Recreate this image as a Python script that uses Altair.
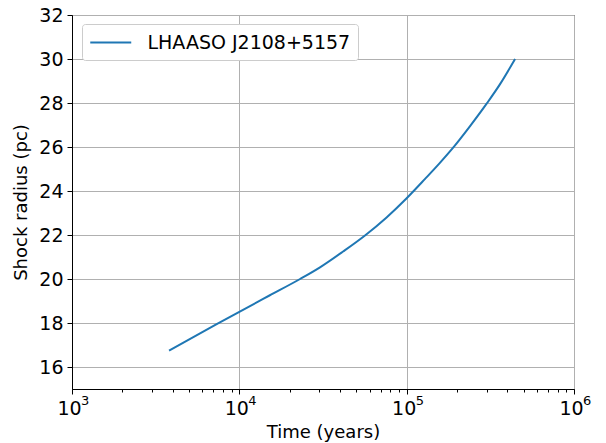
import altair as alt
import pandas as pd

# Data
time_years = [3802, 7413, 10000, 15136, 23067, 30339, 41687, 56364, 75858,
              100000, 128825, 158489, 190108, 239883, 301300, 363078, 444631]
shock_radius = [16.74, 17.97, 18.51, 19.25, 20.00, 20.53, 21.25, 21.98, 22.80,
                23.67, 24.55, 25.29, 25.98, 26.96, 27.98, 28.88, 30.00]
series_name = "LHAASO J2108+5157"

x_major = [1000, 10000, 100000, 1000000]
x_exp = ["3", "4", "5", "6"]
x_minor = [m * d for d in [1000, 10000, 100000] for m in range(2, 10)]
y_ticks = [16, 18, 20, 22, 24, 26, 28, 30, 32]

df = pd.DataFrame({"t": time_years, "r": shock_radius, "series": series_name})
df_exp = pd.DataFrame({"t": x_major, "e": x_exp})

FONT = "DejaVu Sans"
PLOT_H = 374

xscale = alt.Scale(type="log", domain=[1000, 1000000], nice=False)
yscale = alt.Scale(domain=[15, 32], nice=False, zero=False)

main = alt.Chart(df).mark_line(strokeWidth=2, interpolate="monotone").encode(
    x=alt.X("t:Q", scale=xscale,
            axis=alt.Axis(title="Time (years)", values=x_major, labelExpr="'10'",
                          orient="bottom", grid=True, gridColor="#b0b0b0",
                          gridWidth=1, tickSize=5, labelPadding=5, labelOffset=-3,
                          labelFontSize=19, titleFontSize=18, titlePadding=5,
                          labelFont=FONT, titleFont=FONT, labelColor="black",
                          titleColor="black", tickColor="black", domainColor="black",
                          labelFlush=False, titleFontWeight="normal")),
    y=alt.Y("r:Q", scale=yscale,
            axis=alt.Axis(title="Shock radius (pc)", values=y_ticks, grid=True,
                          gridColor="#b0b0b0", gridWidth=1, tickSize=5,
                          labelPadding=4, labelFontSize=19, titleFontSize=18,
                          titlePadding=8, labelFont=FONT, titleFont=FONT,
                          labelColor="black", titleColor="black", tickColor="black",
                          domainColor="black", titleFontWeight="normal")),
    color=alt.Color("series:N",
                    scale=alt.Scale(domain=[series_name], range=["#1f77b4"]),
                    legend=alt.Legend(title=None, orient="none", legendX=10, legendY=9,
                                      symbolType="M-1,0H3", symbolSize=420,
                                      symbolStrokeWidth=2, labelFontSize=19,
                                      labelFont=FONT, labelOffset=35.5, padding=7,
                                      labelLimit=500,
                                      strokeColor="#cccccc", fillColor="white",
                                      cornerRadius=3, labelColor="black")),
)

minor = alt.Chart(df).mark_line(opacity=0).encode(
    x=alt.X("t:Q", scale=xscale,
            axis=alt.Axis(title=None, values=x_minor, labels=False, grid=False,
                          domain=False, tickSize=3, tickColor="black",
                          orient="bottom")),
    y=alt.Y("r:Q", scale=yscale),
)

exps = alt.Chart(df_exp).mark_text(
    align="left", baseline="alphabetic", fontSize=13, font=FONT, color="black", dx=9
).encode(
    x=alt.X("t:Q", scale=xscale, axis=None),
    y=alt.value(PLOT_H + 16.3),
    text="e:N",
)

chart = alt.layer(main, minor, exps).resolve_axis(x="independent").properties(
    width=502, height=PLOT_H,
    autosize=alt.AutoSizeParams(type="none"),
    padding={"left": 64, "top": 7, "right": 24, "bottom": 54},
).configure_view(stroke="black", strokeWidth=1)

chart.save("out.html", embed_options={"renderer": "svg", "actions": False})
